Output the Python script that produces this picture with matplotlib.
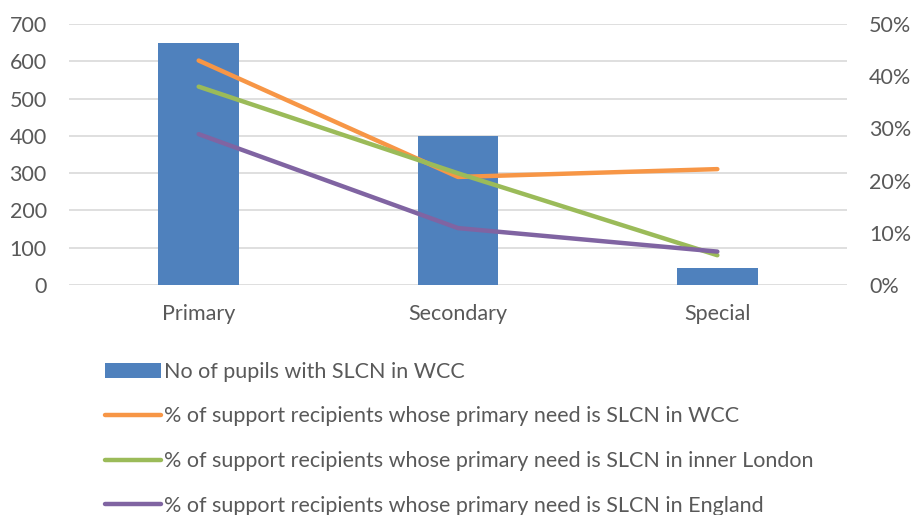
import matplotlib.pyplot as plt
from matplotlib.ticker import PercentFormatter

categories = ["Primary", "Secondary", "Special"]
pupils_wcc = [650, 400, 46]
pct_wcc = [0.430, 0.207, 0.222]
pct_inner_london = [0.380, 0.214, 0.057]
pct_england = [0.289, 0.109, 0.064]

labels = [
    "No of pupils with SLCN in WCC",
    "% of support recipients whose primary need is SLCN in WCC",
    "% of support recipients whose primary need is SLCN in inner London",
    "% of support recipients whose primary need is SLCN in England",
]

plt.rcParams["font.family"] = ["Lato", "DejaVu Sans"]
text_col = "#595959"
fs = 15.5

fig = plt.figure(figsize=(9.13, 5.15), dpi=100)
ax = fig.add_axes([69 / 913, 1 - 285 / 515, 778 / 913, 261 / 515])
x = list(range(len(categories)))

bars = ax.bar(x, pupils_wcc, width=0.31, color="#4F81BD", zorder=2)
ax.set_ylim(0, 700)
ax.set_yticks(range(0, 701, 100))
ax.set_xlim(-0.5, 2.5)
ax.set_xticks(x)
ax.set_xticklabels(categories)
ax.grid(axis="y", color="#D9D9D9", linewidth=1.2, zorder=0)
ax.set_axisbelow(True)
for s in ax.spines.values():
    s.set_visible(False)
ax.tick_params(length=0, labelsize=fs, colors=text_col)
ax.tick_params(axis="x", pad=14)
ax.tick_params(axis="y", pad=16)

ax2 = ax.twinx()
ax2.set_ylim(0, 0.5)
ax2.set_yticks([0, 0.1, 0.2, 0.3, 0.4, 0.5])
ax2.yaxis.set_major_formatter(PercentFormatter(1.0, decimals=0))
for s in ax2.spines.values():
    s.set_visible(False)
ax2.tick_params(length=0, labelsize=fs, colors=text_col, pad=16)

l1, = ax2.plot(x, pct_wcc, color="#F79646", lw=3.2, solid_capstyle="round")
l2, = ax2.plot(x, pct_inner_london, color="#9BBB59", lw=3.2, solid_capstyle="round")
l3, = ax2.plot(x, pct_england, color="#8064A2", lw=3.2, solid_capstyle="round")

leg = fig.legend([bars, l1, l2, l3], labels, loc="upper left",
                 bbox_to_anchor=(96 / 913, 1 - 353 / 515), frameon=False,
                 fontsize=fs, handlelength=2.6, handletextpad=0.15,
                 labelspacing=1.15, borderaxespad=0)
for t in leg.get_texts():
    t.set_color(text_col)

fig.savefig("out.png", dpi=100)
